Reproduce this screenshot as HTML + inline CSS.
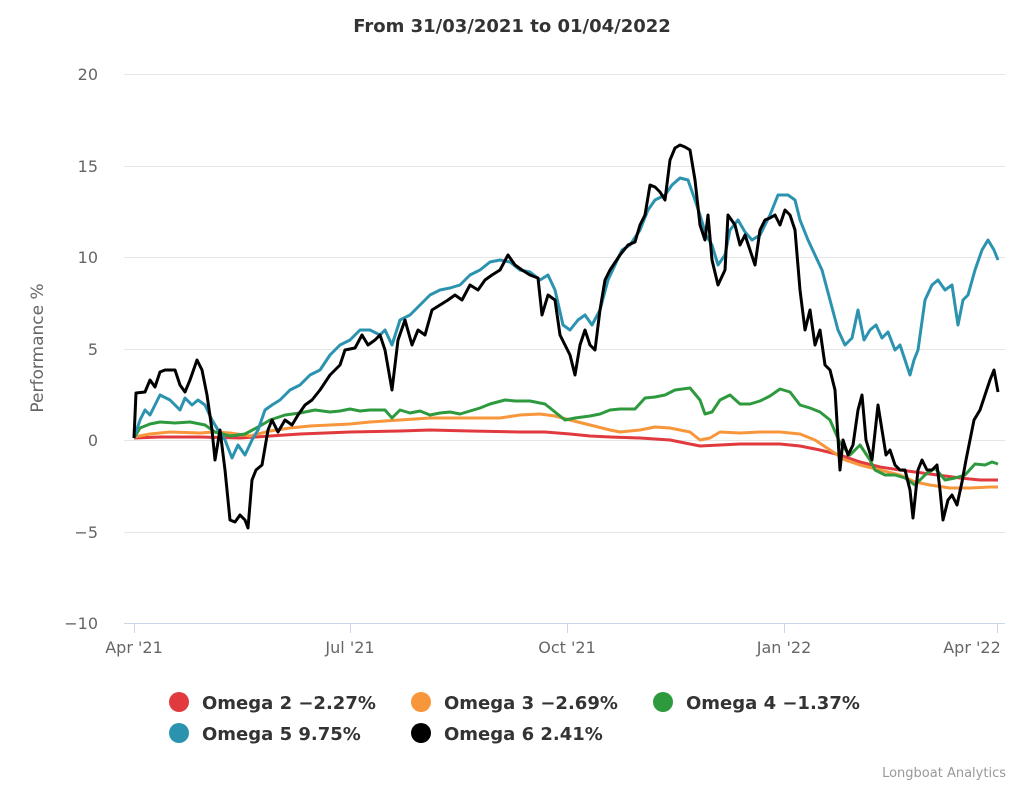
<!DOCTYPE html>
<html><head><meta charset="utf-8"><style>
html,body{margin:0;padding:0;background:#fff;}
svg text{font-family:"DejaVu Sans","Liberation Sans",sans-serif;}
</style></head><body>
<svg width="1024" height="785" xmlns="http://www.w3.org/2000/svg">
<rect width="1024" height="785" fill="#fff"/>
<text x="512" y="32" text-anchor="middle" font-size="18" font-weight="bold" fill="#333">From 31/03/2021 to 01/04/2022</text>
<g stroke="#e6e6e6" stroke-width="1">
<line x1="124" x2="1005" y1="74.5" y2="74.5"/><line x1="124" x2="1005" y1="166.5" y2="166.5"/>
<line x1="124" x2="1005" y1="257.5" y2="257.5"/><line x1="124" x2="1005" y1="349.5" y2="349.5"/>
<line x1="124" x2="1005" y1="440.5" y2="440.5"/><line x1="124" x2="1005" y1="532.5" y2="532.5"/>
</g>
<line x1="124" x2="1005" y1="623.5" y2="623.5" stroke="#ccd6eb"/>
<g stroke="#ccd6eb"><line x1="134.5" x2="134.5" y1="623" y2="633"/><line x1="350.5" x2="350.5" y1="623" y2="633"/><line x1="567.5" x2="567.5" y1="623" y2="633"/><line x1="784.5" x2="784.5" y1="623" y2="633"/><line x1="997.5" x2="997.5" y1="623" y2="633"/></g>
<g font-size="16" fill="#666" text-anchor="end">
<text x="98" y="80">20</text><text x="98" y="172">15</text><text x="98" y="263">10</text><text x="98" y="355">5</text><text x="98" y="446">0</text><text x="98" y="538">−5</text><text x="98" y="629">−10</text>
</g>
<g font-size="16" fill="#666" text-anchor="middle">
<text x="134" y="653">Apr '21</text><text x="350" y="653">Jul '21</text><text x="567" y="653">Oct '21</text><text x="784" y="653">Jan '22</text><text x="972" y="653">Apr '22</text>
</g>
<text transform="translate(43,348) rotate(-90)" text-anchor="middle" font-size="17" fill="#666">Performance %</text>
<g fill="none" stroke-width="3" stroke-linejoin="round">
<polyline stroke="#e03a3e" points="134,438 160,437 200,437 240,438 270,436 300,434 350,432 400,431 430,430 470,431 520,432 545,432 570,434 590,436 610,437 640,438 670,440 700,446 740,444 780,444 800,446 820,450 840,455 860,462 880,467 900,470 930,474 960,478 980,480 998,480"/>
<polyline stroke="#f7963a" points="134,437 150,434 170,432 200,433 215,432 230,433 250,436 270,431 290,428 310,426 330,425 350,424 370,422 400,420 430,418 460,418 480,418 500,418 520,415 540,414 555,416 570,420 590,425 610,430 620,432 640,430 655,427 670,428 690,432 700,440 710,438 720,432 740,433 760,432 780,432 800,434 815,440 830,450 845,460 860,465 880,470 900,475 915,482 930,485 950,488 970,488 990,487 998,487"/>
<polyline stroke="#2e9a3e" points="134,438 140,428 150,424 160,422 175,423 190,422 205,425 215,432 230,436 245,434 260,426 270,420 285,415 300,413 315,410 330,412 340,411 350,409 360,411 370,410 385,410 392,418 400,410 410,413 420,411 430,415 440,413 450,412 460,414 470,411 480,408 490,404 505,400 515,401 530,401 545,404 555,412 565,420 575,418 590,416 600,414 610,410 620,409 635,409 645,398 655,397 665,395 675,390 690,388 700,400 705,414 712,412 720,400 730,395 740,404 750,404 760,401 770,396 780,389 790,392 800,405 810,408 820,412 830,420 840,443 850,455 860,445 870,460 875,470 885,475 895,475 905,478 915,485 925,475 935,468 945,480 955,478 965,475 975,464 985,465 992,462 998,464"/>
<polyline stroke="#2b93b0" points="134,438 140,420 145,410 150,415 155,405 160,395 170,400 180,410 185,398 192,405 198,400 205,405 212,420 218,430 225,440 232,458 238,445 245,455 252,440 258,430 265,410 272,405 280,400 290,390 300,385 310,375 320,370 330,355 340,345 350,340 360,330 370,330 380,335 385,330 392,345 400,320 410,315 420,305 430,295 440,290 450,288 460,285 470,275 480,270 490,262 500,260 510,262 520,270 530,272 540,280 548,275 555,290 563,325 570,330 578,320 585,315 592,325 600,310 608,280 615,265 622,250 630,245 640,230 648,210 655,200 665,195 672,185 680,178 688,180 695,200 700,215 706,235 712,245 718,265 725,255 730,230 738,220 745,232 752,240 760,235 770,215 778,195 788,195 795,200 800,220 808,240 815,255 822,270 830,300 838,330 845,345 852,338 858,310 864,340 870,330 876,325 882,338 888,332 895,350 900,345 905,360 910,375 914,360 918,350 925,300 932,285 938,280 945,290 952,285 958,325 963,300 968,295 975,270 982,250 988,240 994,250 998,260"/>
<polyline stroke="#000" points="134,438 136,393 145,392 150,380 155,387 160,372 165,370 175,370 180,385 185,392 190,380 197,360 202,370 207,395 212,430 215,460 220,430 225,470 230,520 235,522 240,515 245,520 248,528 252,480 256,470 262,465 268,430 272,420 278,432 285,420 292,425 298,415 305,405 312,400 320,390 330,375 340,365 345,350 355,348 362,335 368,345 375,340 380,335 385,350 392,390 398,340 405,320 412,345 418,330 425,335 432,310 440,305 448,300 455,295 462,300 470,285 478,290 485,280 492,275 500,270 508,255 515,265 522,270 530,275 538,278 542,315 548,295 555,300 560,335 565,345 570,355 575,375 580,345 585,330 590,345 595,350 600,310 605,280 610,270 620,255 628,245 635,242 640,225 645,215 650,185 655,187 660,192 665,200 670,160 675,148 680,145 685,147 690,150 695,180 700,225 705,240 708,215 712,260 718,285 725,270 728,215 735,225 740,245 745,235 750,250 755,265 760,230 765,220 770,218 775,215 780,225 785,210 790,215 795,230 800,290 805,330 810,310 815,345 820,330 825,365 830,370 835,390 840,470 843,440 848,455 853,445 858,410 862,395 866,440 872,460 878,405 882,430 886,455 890,450 895,465 900,470 905,470 910,490 913,518 918,470 922,460 927,470 932,470 937,465 940,490 943,520 948,500 952,495 957,505 962,482 966,460 970,440 974,420 980,410 985,395 990,380 994,370 998,392"/>
</g>
<g font-size="18" font-weight="bold" fill="#333">
<circle cx="179" cy="702" r="10" fill="#e03a3e"/><text x="202" y="709">Omega 2 −2.27%</text>
<circle cx="421" cy="702" r="10" fill="#f7963a"/><text x="444" y="709">Omega 3 −2.69%</text>
<circle cx="663" cy="702" r="10" fill="#2e9a3e"/><text x="686" y="709">Omega 4 −1.37%</text>
<circle cx="179" cy="733" r="10" fill="#2b93b0"/><text x="202" y="740">Omega 5 9.75%</text>
<circle cx="421" cy="733" r="10" fill="#000"/><text x="444" y="740">Omega 6 2.41%</text>
</g>
<text x="1006" y="777" text-anchor="end" font-size="13" fill="#999">Longboat Analytics</text>
</svg>
</body></html>
